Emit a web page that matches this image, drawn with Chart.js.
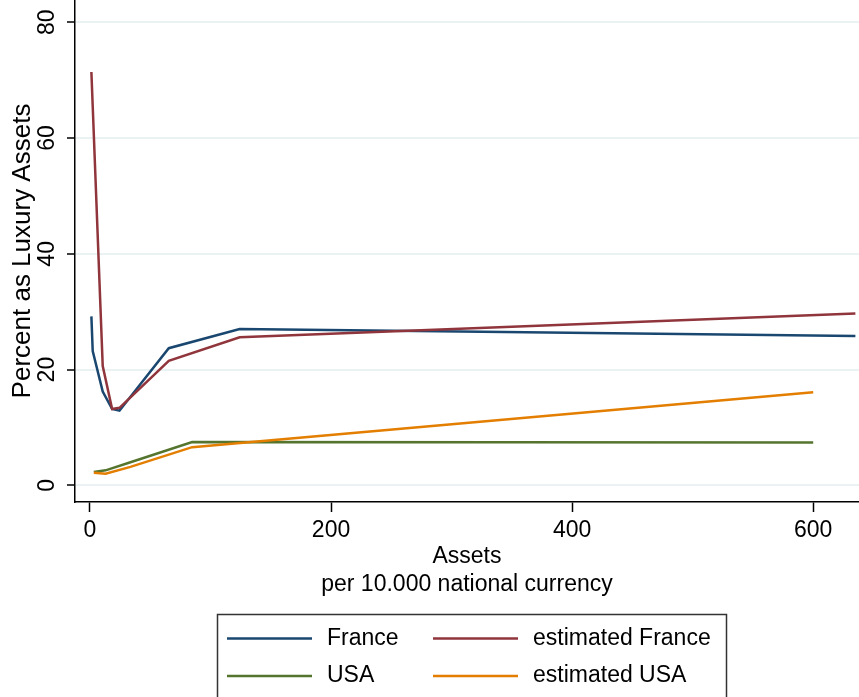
<!DOCTYPE html>
<html>
<head>
<meta charset="utf-8">
<script src="https://cdn.jsdelivr.net/npm/chart.js@4.4.0/dist/chart.umd.min.js"></script>
<style>
  body { margin: 0; background: #fff; }
  canvas { display: block; }
</style>
</head>
<body>
<canvas id="lux" width="859" height="697"></canvas>
<script>
// data
const franceX = [1.2, 2.3, 10.6, 18.4, 24.5, 65.4, 124.2, 635];
const france = [29.2, 23.2, 16.2, 13.2, 12.9, 23.7, 27.0, 25.8];
const estFrance = [71.4, 65.5, 20.6, 13.2, 13.4, 21.5, 25.6, 29.7];
const usaX = [3.2, 13.0, 33.6, 84.8, 600];
const usa = [2.3, 2.6, 4.0, 7.5, 7.4];
const estUsa = [2.2, 2.0, 3.2, 6.6, 16.1];
const xTicks = [0, 200, 400, 600];
const yTicks = [0, 20, 40, 60, 80];

const FONT = '"Liberation Sans", Arial, sans-serif';

function pts(xs, ys) {
  return xs.map((x, i) => ({ x: x, y: ys[i] }));
}

// y tick labels are vertical, like stata
const rotatedYLabels = {
  id: 'rotatedYLabels',
  afterDraw(chart) {
    const ctx = chart.ctx;
    const y = chart.scales.y;
    ctx.save();
    ctx.fillStyle = '#000';
    ctx.font = '23px ' + FONT;
    ctx.textAlign = 'center';
    ctx.textBaseline = 'alphabetic';
    y.ticks.forEach(t => {
      ctx.save();
      ctx.translate(54, y.getPixelForValue(t.value));
      ctx.rotate(-Math.PI / 2);
      ctx.fillText(String(t.value), 0, 0);
      ctx.restore();
    });
    ctx.restore();
  }
};

// boxed legend, 2 columns
const boxLegend = {
  id: 'boxLegend',
  afterDraw(chart) {
    const ctx = chart.ctx;
    ctx.save();
    ctx.strokeStyle = '#333';
    ctx.lineWidth = 1.5;
    ctx.strokeRect(217.5, 614.5, 509, 100);
    ctx.font = '23px ' + FONT;
    ctx.textBaseline = 'middle';
    ctx.fillStyle = '#000';
    const cols = [227, 433];
    const rows = [638.5, 676];
    chart.data.datasets.forEach((ds, i) => {
      const lx = cols[i % 2];
      const ly = rows[Math.floor(i / 2)];
      ctx.strokeStyle = ds.borderColor;
      ctx.lineWidth = 2.5;
      ctx.beginPath();
      ctx.moveTo(lx, ly);
      ctx.lineTo(lx + 85, ly);
      ctx.stroke();
      ctx.fillText(ds.label, lx + 100, ly);
    });
    ctx.restore();
  }
};

const ctx = document.getElementById('lux').getContext('2d');
const chart = new Chart(ctx, {
  type: 'line',
  data: {
    datasets: [
      { label: 'France', data: pts(franceX, france), borderColor: '#1a476f', order: 4 },
      { label: 'estimated France', data: pts(franceX, estFrance), borderColor: '#90353b', order: 3 },
      { label: 'USA', data: pts(usaX, usa), borderColor: '#55752f', order: 2 },
      { label: 'estimated USA', data: pts(usaX, estUsa), borderColor: '#e37e00', order: 1 }
    ]
  },
  options: {
    responsive: false,
    animation: false,
    layout: { padding: { left: 0, right: 0, top: 0, bottom: 96 } },
    elements: {
      line: { borderWidth: 2.5, tension: 0, fill: false },
      point: { radius: 0 }
    },
    plugins: {
      legend: { display: false },
      tooltip: { enabled: false }
    },
    scales: {
      x: {
        type: 'linear',
        min: -12.4,
        max: 638,
        afterBuildTicks: s => { s.ticks = xTicks.map(v => ({ value: v })); },
        afterFit: s => { s.height = 99; },
        grid: { drawOnChartArea: false, tickLength: 10, tickColor: '#000', tickWidth: 1.5 },
        border: { color: '#000', width: 1.5 },
        ticks: { color: '#000', font: { family: FONT, size: 23 }, padding: 5, maxRotation: 0 },
        title: {
          display: true,
          text: ['Assets', 'per 10.000 national currency'],
          color: '#000',
          font: { family: FONT, size: 23, lineHeight: 1.2 },
          padding: { top: 0, bottom: 3 }
        }
      },
      y: {
        min: -2.87,
        max: 83.85,
        afterBuildTicks: s => { s.ticks = yTicks.map(v => ({ value: v })); },
        afterFit: s => { s.width = 75; },
        grid: { color: '#eaf2f3', lineWidth: 2, tickLength: 8, tickColor: '#000', tickWidth: 1.5 },
        border: { color: '#000', width: 1.5 },
        ticks: { display: false },
        title: {
          display: true,
          text: 'Percent as Luxury Assets',
          color: '#000',
          font: { family: FONT, size: 26, lineHeight: 1.2 },
          padding: { top: 7, bottom: 0 }
        }
      }
    }
  },
  plugins: [rotatedYLabels, boxLegend]
});
</script>
</body>
</html>
